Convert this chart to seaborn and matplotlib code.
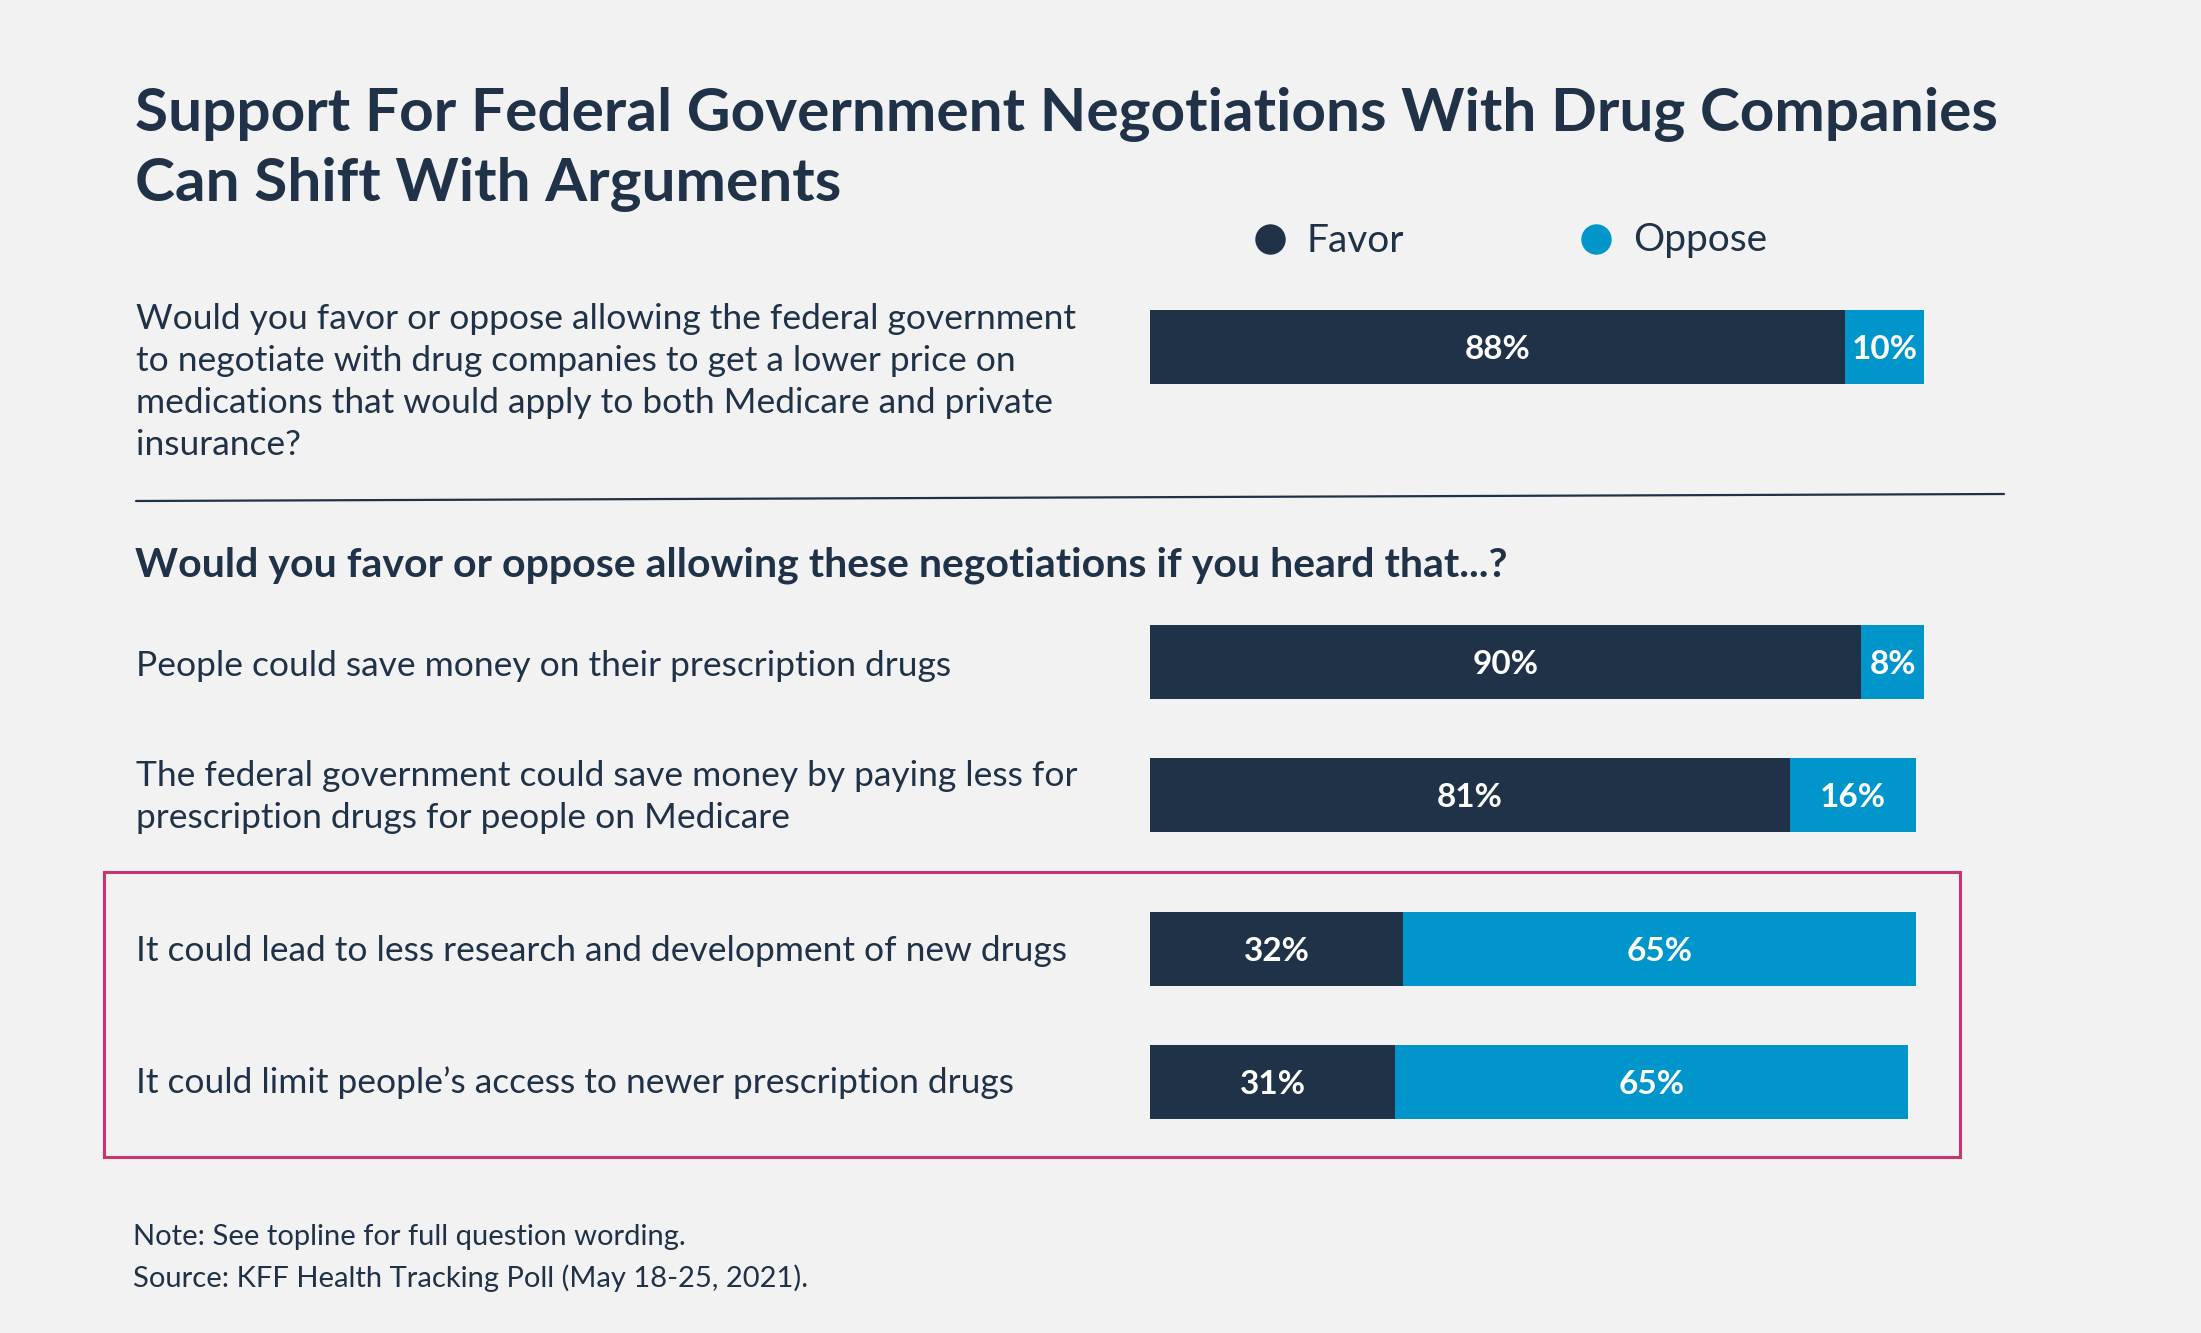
import matplotlib.pyplot as plt
import matplotlib.patches as mpatches
import numpy as np
import pandas as pd
import seaborn as sns

# ── Data ────────────────────────────────────────────────────────────────────
row_labels = [
    ["Would you favor or oppose allowing the federal government",
     "to negotiate with drug companies to get a lower price on",
     "medications that would apply to both Medicare and private",
     "insurance?"],
    ["People could save money on their prescription drugs"],
    ["The federal government could save money by paying less for",
     "prescription drugs for people on Medicare"],
    ["It could lead to less research and development of new drugs"],
    ["It could limit people\u2019s access to newer prescription drugs"],
]
favor = [88, 90, 81, 32, 31]
oppose = [10, 8, 16, 65, 65]
series_names = ["Favor", "Oppose"]

title = ("Support For Federal Government Negotiations With Drug Companies\n"
         "Can Shift With Arguments")
subheading = "Would you favor or oppose allowing these negotiations if you heard that...?"
notes = ["Note: See topline for full question wording.",
         "Source: KFF Health Tracking Poll (May 18-25, 2021)."]

# ── Colour palette ──────────────────────────────────────────────────────────
NAVY = '#1F3248'
BLUE = '#0096CC'
PINK = '#C8356F'
BG = '#F2F2F2'

# ── Layout (pixels in the 2201x1333 canvas) ──────────────────────────────────
W, H = 2201, 1333
BAR_LEFT, BAR_SPAN = 1150, 790          # x of 0% and width of 100%
row_y = [347, 662, 795, 949, 1082]      # bar centres
label_y = [316, 663, 773, 948, 1080]    # first text line of each label
LINE_STEP = 42
BAR_H = 74

sns.set_theme(style='white')
plt.rcParams['font.family'] = ['Lato', 'DejaVu Sans']

fig = plt.figure(figsize=(W / 100, H / 100), dpi=100)
fig.patch.set_facecolor(BG)

# overlay axes in pixel coordinates for text and decorations
ov = fig.add_axes([0, 0, 1, 1])
ov.set_xlim(0, W)
ov.set_ylim(H, 0)
ov.axis('off')
ov.set_facecolor('none')

# bar axes: x in percent, y in canvas pixels
bx = fig.add_axes([BAR_LEFT / W, 0, BAR_SPAN / W, 1])
bx.set_facecolor('none')

df = pd.DataFrame({'pos': row_y, 'favor': favor, 'oppose': oppose})
df['total'] = df['favor'] + df['oppose']
width = BAR_H / np.min(np.diff(sorted(row_y)))

sns.barplot(data=df, x='total', y='pos', orient='h', native_scale=True,
            color=BLUE, saturation=1, width=width, errorbar=None,
            linewidth=0, ax=bx)
sns.barplot(data=df, x='favor', y='pos', orient='h', native_scale=True,
            color=NAVY, saturation=1, width=width, errorbar=None,
            linewidth=0, ax=bx)
bx.set_xlim(0, 100)
bx.set_ylim(H, 0)
bx.axis('off')

for y, f, o in zip(row_y, favor, oppose):
    bx.text(f / 2, y, f'{f}%', ha='center', va='center_baseline',
            color='white', fontsize=24, fontweight='bold')
    bx.text(f + o / 2, y, f'{o}%', ha='center', va='center_baseline',
            color='white', fontsize=24, fontweight='bold')

# ── Text ────────────────────────────────────────────────────────────────────
for i, line in enumerate(title.split('\n')):
    ov.text(135, 131 + i * 70, line, ha='left', va='baseline',
            fontsize=43.5, fontweight='bold', color=NAVY)

for lines, y0 in zip(row_labels, label_y):
    for j, line in enumerate(lines):
        ov.text(136, y0 + j * LINE_STEP, line, ha='left',
                va='center_baseline', fontsize=25.5, color=NAVY)

ov.text(135, 561, subheading, ha='left', va='center_baseline',
        fontsize=29.5, fontweight='bold', color=NAVY)

for j, line in enumerate(notes):
    ov.text(133, 1235 + j * 41, line, ha='left', va='center_baseline',
            fontsize=21, color=NAVY)

# legend
for x, name, color in zip([1270, 1596], series_names, [NAVY, BLUE]):
    ov.scatter([x], [239], s=480, color=color, linewidths=0)
    ov.text(x + 37, 237, name, ha='left', va='center_baseline',
            fontsize=28, color=NAVY)

# separator and highlight box
ov.plot([136, 2004], [501, 494], color=NAVY, lw=1.6)
ov.add_patch(mpatches.Rectangle((104, 872), 1856, 285, fill=False,
                                edgecolor=PINK, lw=2.2))

fig.savefig('out.png', dpi=100, facecolor=BG)
